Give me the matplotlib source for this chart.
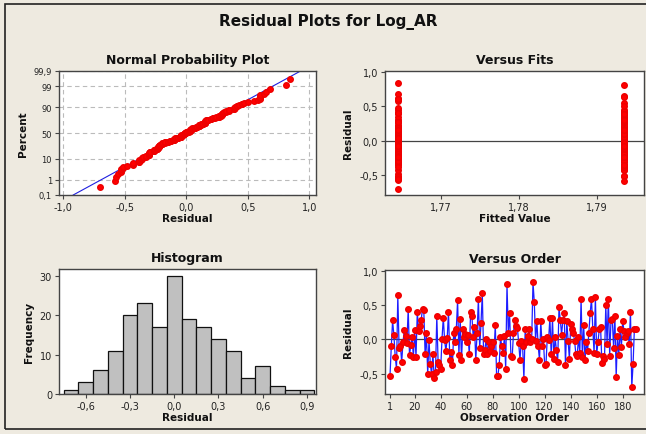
import matplotlib
matplotlib.use("Agg")
import matplotlib.pyplot as plt
from matplotlib.patches import Rectangle
from statistics import NormalDist
import numpy as np

# residuals in observation order
residuals = [
    -0.53, -0.10, 0.28, 0.06, -0.25, -0.43, 0.65, -0.13, -0.09, -0.33,
    -0.04, 0.14, 0.05, -0.05, 0.45, -0.23, -0.08, 0.03, -0.26, 0.14,
    -0.26, 0.41, 0.12, 0.20, 0.29, 0.45, 0.43, -0.22, 0.09, -0.51,
    -0.01, -0.36, -0.51, -0.21, -0.57, -0.48, 0.35, -0.33, -0.37, -0.43,
    0.01, 0.32, -0.01, -0.17, 0.02, 0.41, -0.30, -0.19, -0.38, 0.09,
    -0.04, 0.15, 0.58, -0.23, 0.30, -0.30, 0.15, 0.03, 0.08, -0.04,
    0.07, -0.22, 0.40, 0.35, 0.04, 0.18, -0.30, 0.10, 0.60, -0.13,
    0.24, 0.68, -0.21, -0.15, 0.01, -0.21, -0.04, -0.17, -0.10, -0.04,
    -0.20, 0.22, -0.53, -0.53, -0.38, 0.03, -0.10, -0.20, 0.05, -0.43,
    0.81, 0.10, 0.39, -0.24, -0.26, 0.10, 0.29, 0.20, 0.17, -0.05,
    -0.30, -0.02, -0.09, -0.58, 0.15, -0.04, 0.05, 0.16, -0.03, 0.00,
    0.84, 0.55, -0.02, 0.27, -0.10, -0.30, 0.27, -0.09, 0.00, -0.38,
    -0.36, 0.03, -0.01, 0.32, -0.22, 0.31, -0.29, 0.03, -0.15, -0.33,
    0.47, 0.29, 0.07, 0.29, 0.39, -0.38, 0.27, -0.02, -0.29, 0.23,
    0.15, 0.10, -0.02, -0.22, -0.24, 0.03, -0.20, 0.60, -0.26, 0.22,
    -0.30, -0.03, -0.17, 0.10, 0.39, 0.60, 0.16, -0.20, 0.63, -0.22,
    -0.04, 0.15, 0.18, -0.35, -0.24, -0.29, 0.50, -0.07, 0.60, -0.24,
    0.28, 0.30, -0.12, 0.35, -0.55, 0.05, -0.23, 0.15, -0.11, 0.27,
    0.13, 0.04, 0.10, 0.12, -0.07, 0.40, -0.70, -0.36, 0.16, 0.15,
]

# which of the two fitted values each observation has (L = 1.7645, R = 1.7935)
fit_levels = {"L": 1.7645, "R": 1.7935}
fit_group = (
    "LRRLLRRLRL" "RLLRRLLRLR" "LRLRRLRLLR" "RLRRLLRLRL" "LRRLRLLRRL"
    "RLLRLRRLLR" "LRLRRLRLLR" "RLRRLLRLRL" "LRLLRRLRLR" "RLRLLRRLRL"
    "LRRRLLRLRL" "LRLRRLRLLR" "RLLRLRRLRL" "LRRLRLLRRL" "RLRLLRRLRL"
    "LRLRRLRLRL" "RLLRLRRLLR" "LRRLLRLRRL" "RLRLRLLRLR"
)

# histogram (bin midpoints and counts)
bin_mid = [-0.7, -0.6, -0.5, -0.4, -0.3, -0.2, -0.1, 0.0, 0.1, 0.2,
           0.3, 0.4, 0.5, 0.6, 0.7, 0.8, 0.9]
bin_count = [1, 3, 6, 11, 20, 23, 17, 30, 19, 17, 14, 11, 4, 7, 2, 1, 1]

pct_ticks = [0.1, 1, 10, 50, 90, 99, 99.9]
pct_labels = ["0,1", "1", "10", "50", "90", "99", "99,9"]

BG = "#EEEAE0"
W, H = 646, 435
FONT = "DejaVu Sans"

plt.rcParams["font.family"] = FONT

fig = plt.figure(figsize=(W / 100, H / 100), dpi=100, facecolor=BG)
fig.patches.append(Rectangle((5 / W, 1 - 430 / H), 700 / W, 425 / H,
                             transform=fig.transFigure, fill=False,
                             edgecolor="#222222", lw=1.2))


def box(x0, y0, x1, y1):
    return fig.add_axes([x0 / W, 1 - y1 / H, (x1 - x0) / W, (y1 - y0) / H])


def comma(v, nd=1):
    return f"{v:.{nd}f}".replace(".", ",")


def style(ax):
    ax.set_facecolor("white")
    for s in ax.spines.values():
        s.set_color("#444444")
        s.set_linewidth(1.0)
    ax.tick_params(direction="out", length=3, width=0.8, color="#444444",
                   labelsize=7, labelcolor="#222222", pad=2)


tfont = dict(fontsize=9, fontweight="bold", color="#111111")
lfont = dict(fontsize=7.5, fontweight="bold", color="#111111")

fig.text(328 / W, 1 - 22 / H, "Residual Plots for Log_AR", ha="center",
         va="center", fontsize=11, fontweight="bold", color="#111111")

nd = NormalDist()
res = np.array(residuals)
n = len(res)

# Normal probability plot
ax1 = box(59, 72, 316, 196)
style(ax1)
srt = np.sort(res)
ranks = np.arange(1, n + 1)
z = np.array([nd.inv_cdf((i - 0.3) / (n + 0.4)) for i in ranks])
mu, sd = res.mean(), res.std(ddof=1)
zlim = nd.inv_cdf(0.999)
zl = np.array([-zlim, zlim])
ax1.plot(mu + sd * zl, zl, color="#2020E0", lw=0.8, zorder=2)
ax1.plot(srt, z, "o", color="#FF0000", ms=4, mec="#EE0000", zorder=3)
ax1.set_xlim(-1.033, 1.054)
ax1.set_ylim(-zlim, zlim)
zt = [nd.inv_cdf(p / 100) for p in pct_ticks]
ax1.set_yticks(zt)
ax1.set_yticklabels(pct_labels, fontsize=6)
xt = [-1.0, -0.5, 0.0, 0.5, 1.0]
ax1.set_xticks(xt)
ax1.set_xticklabels([comma(v) for v in xt])
ax1.grid(True, color="#BBBBBB", ls=(0, (4, 3)), lw=0.8)
ax1.set_axisbelow(True)
ax1.set_title("Normal Probability Plot", pad=6, **tfont)
ax1.set_xlabel("Residual", labelpad=1, **lfont)
ax1.set_ylabel("Percent", labelpad=4, **lfont)

# Versus fits
ax2 = box(385, 72, 644, 196)
style(ax2)
fx = [fit_levels[g] for g in fit_group[:n]]
ax2.axhline(0, color="#444444", lw=0.9, zorder=1)
ax2.plot(fx, res, "o", color="#FF0000", ms=4, mec="#EE0000", zorder=3)
ax2.set_xlim(1.7628, 1.7961)
ax2.set_ylim(-0.79, 1.014)
ft = [1.77, 1.78, 1.79]
ax2.set_xticks(ft)
ax2.set_xticklabels([comma(v, 2) for v in ft])
yt = [-0.5, 0.0, 0.5, 1.0]
ax2.set_yticks(yt)
ax2.set_yticklabels([comma(v) for v in yt])
ax2.set_title("Versus Fits", pad=6, **tfont)
ax2.set_xlabel("Fitted Value", labelpad=1, **lfont)
ax2.set_ylabel("Residual", labelpad=4, **lfont)

# Histogram
ax3 = box(59, 270, 316, 395)
style(ax3)
ax3.bar(bin_mid, bin_count, width=0.1, color="#C0C0C0", edgecolor="#111111",
        lw=0.9)
ax3.set_xlim(-0.781, 0.961)
ax3.set_ylim(0, 31.7)
ht = [-0.6, -0.3, 0.0, 0.3, 0.6, 0.9]
ax3.set_xticks(ht)
ax3.set_xticklabels([comma(v) for v in ht])
ax3.set_yticks([0, 10, 20, 30])
ax3.set_title("Histogram", pad=6, **tfont)
ax3.set_xlabel("Residual", labelpad=1, **lfont)
ax3.set_ylabel("Frequency", labelpad=4, **lfont)

# Versus order
ax4 = box(385, 271, 644, 395)
style(ax4)
obs = np.arange(1, n + 1)
ax4.axhline(0, color="#444444", lw=0.9, zorder=1)
ax4.plot(obs, res, color="#1E1EFF", lw=0.9, zorder=2)
ax4.plot(obs, res, "o", color="#FF0000", ms=4, mec="#EE0000", zorder=3)
ax4.set_xlim(-2.85, 196.4)
ax4.set_ylim(-0.80, 1.02)
ot = [1, 20, 40, 60, 80, 100, 120, 140, 160, 180]
ax4.set_xticks(ot)
ax4.set_yticks(yt)
ax4.set_yticklabels([comma(v) for v in yt])
ax4.set_title("Versus Order", pad=6, **tfont)
ax4.set_xlabel("Observation Order", labelpad=1, **lfont)
ax4.set_ylabel("Residual", labelpad=4, **lfont)

fig.savefig("out.png", dpi=100, facecolor=BG)
